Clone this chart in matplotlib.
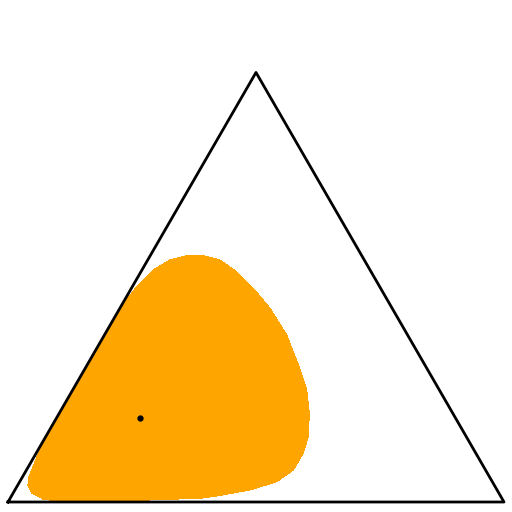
import numpy as np
import matplotlib
matplotlib.use('Agg')
import matplotlib.pyplot as plt

# triangle corners (unit equilateral simplex)
corner_x = [0.0, 1.0, 0.5, 0.0]
corner_y = [0.0, 0.0, np.sqrt(3) / 2, 0.0]

# outline of the filled region, cartesian simplex coords
region_x = [0.2258, 0.2595, 0.2929, 0.3266, 0.3603, 0.3938, 0.4274, 0.4611, 0.4946, 0.5282,
            0.5619, 0.5887, 0.6022, 0.6075, 0.6054, 0.5954, 0.5752, 0.5417, 0.4879, 0.4208,
            0.3871, 0.2258, 0.1512, 0.0988, 0.0706, 0.0484, 0.0403, 0.0423, 0.0504, 0.0722]
region_y = [0.3905, 0.4341, 0.4677, 0.4879, 0.4966, 0.4966, 0.4879, 0.4643, 0.4308, 0.3905,
            0.3367, 0.2681, 0.2258, 0.1794, 0.1317, 0.0988, 0.0645, 0.0409, 0.0242, 0.0121,
            0.0075, 0.0020, 0.0010, 0.0020, 0.0060, 0.0181, 0.0343, 0.0504, 0.0706, 0.1250]

# single marked point
pt_x = [0.266]
pt_y = [0.169]

fig = plt.figure(figsize=(5.12, 5.12), dpi=100)
ax = fig.add_axes([0, 0, 1, 1])
ax.fill(region_x, region_y, color='orange', lw=0, antialiased=False, zorder=1)
ax.plot(corner_x, corner_y, color='black', lw=2.0, zorder=2)
ax.plot(pt_x, pt_y, 'o', color='black', ms=3.5, zorder=3)
ax.set_xlim(-8 / 496, 1 + 8 / 496)
ax.set_ylim(-10 / 496, 502 / 496)
ax.axis('off')
plt.savefig('out.png', dpi=100)
